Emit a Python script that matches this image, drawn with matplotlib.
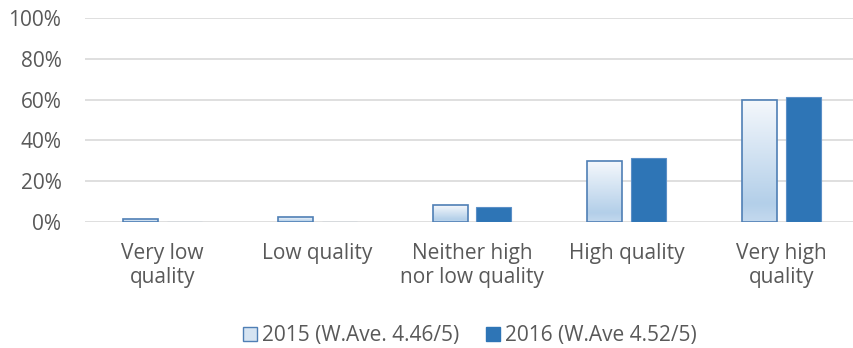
import numpy as np
import matplotlib
matplotlib.use("Agg")
import matplotlib.pyplot as plt
from matplotlib.colors import LinearSegmentedColormap
from matplotlib.patches import Patch

categories = ["Very low\nquality", "Low quality", "Neither high\nnor low quality", "High quality", "Very high\nquality"]
series_2015 = [0.013, 0.023, 0.082, 0.299, 0.60]
series_2016 = [0.0, 0.0, 0.072, 0.312, 0.613]
label_2015 = "2015 (W.Ave. 4.46/5)"
label_2016 = "2016 (W.Ave 4.52/5)"
yticks = [0, 0.2, 0.4, 0.6, 0.8, 1.0]
ytick_labels = ["0%", "20%", "40%", "60%", "80%", "100%"]

plt.rcParams['font.family'] = ['Open Sans', 'DejaVu Sans']
text_color = "#595959"
fs = 15

fig = plt.figure(figsize=(8.54, 3.48), dpi=100)
ax = fig.add_axes([85/854, 1-222/348, 774/854, 204/348])

x = np.arange(len(categories))
w = 0.226
off = 0.142
edge_2015 = "#4f7fb5"
col_2016 = "#2e75b6"

bars15 = ax.bar(x - off, series_2015, w, facecolor="none", edgecolor=edge_2015, linewidth=1.2, zorder=3)
bars16 = ax.bar(x + off, series_2016, w, color=col_2016, edgecolor="#5b8fc7", linewidth=0.8, zorder=3)

cmap = LinearSegmentedColormap.from_list("g", [(0, "#c4d9ee"), (0.15, "#b3cfe9"), (1, "#f5f8fc")])
grad = np.linspace(0, 1, 256).reshape(-1, 1)
for b in bars15:
    h = b.get_height()
    if h <= 0:
        continue
    im = ax.imshow(grad, cmap=cmap, origin="lower", aspect="auto",
                   extent=[b.get_x(), b.get_x() + b.get_width(), 0, h], zorder=2.5)
    im.set_clip_path(b)

ax.set_xlim(-0.5, len(categories) - 0.5)
ax.set_ylim(0, 1.0)
ax.set_yticks(yticks)
ax.set_yticklabels(ytick_labels)
ax.set_xticks(x)
ax.set_xticklabels(categories, linespacing=1.2)
ax.tick_params(axis="y", length=0, pad=17, labelsize=fs, labelcolor=text_color)
ax.tick_params(axis="x", length=0, pad=15, labelsize=fs, labelcolor=text_color)
ax.grid(axis="y", color="#d9d9d9", linewidth=1.2, zorder=0)
ax.set_axisbelow(True)
for s in ax.spines.values():
    s.set_visible(False)

handles = [Patch(facecolor="#d6e4f2", edgecolor=edge_2015, linewidth=1.0, label=label_2015),
           Patch(facecolor=col_2016, edgecolor=col_2016, label=label_2016)]
leg = fig.legend(handles=handles, loc="center", bbox_to_anchor=(470/854, 1-336/348), ncol=2,
                 frameon=False, fontsize=fs, handlelength=0.65, handleheight=0.65,
                 handletextpad=0.25, columnspacing=1.3, labelcolor=text_color,
                 borderpad=0, borderaxespad=0)

fig.savefig("out.png", dpi=100)
